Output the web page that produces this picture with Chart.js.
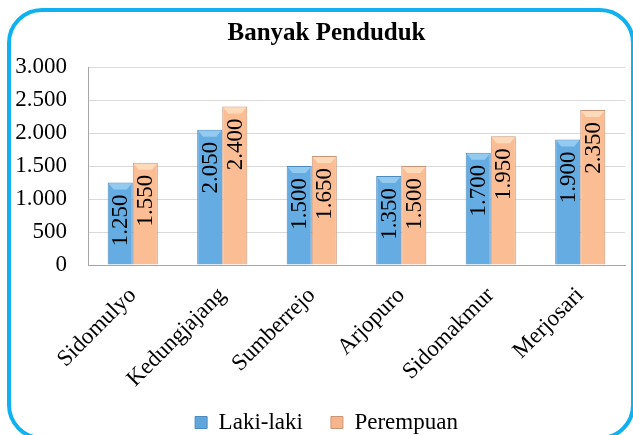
<!DOCTYPE html>
<html>
<head>
<meta charset="utf-8">
<script src="https://cdn.jsdelivr.net/npm/chart.js@4.4.1/dist/chart.umd.min.js"></script>
<style>
    html, body { margin: 0; padding: 0; background: #fff; overflow: hidden; }
    #wrap { position: relative; width: 633px; height: 435px; overflow: hidden; }
    #frame {
        position: absolute; left: 7px; top: 8px;
        width: 620px; height: 424px;
        border: 4px solid #0FB1EE; border-radius: 35px;
        pointer-events: none;
    }
    #chart { position: absolute; left: 0; top: 0; }
</style>
</head>
<body>
<div id="wrap">
    <div id="frame"></div>
    <canvas id="chart" width="633" height="435"></canvas>
</div>
<script>
const desa = ['Sidomulyo', 'Kedungjajang', 'Sumberrejo', 'Arjopuro', 'Sidomakmur', 'Merjosari'];
const lakiLaki = [1250, 2050, 1500, 1350, 1700, 1900];
const perempuan = [1550, 2400, 1650, 1500, 1950, 2350];
const yTicks = [0, 500, 1000, 1500, 2000, 2500, 3000];

const serif = '"Liberation Serif", "Times New Roman", serif';
const LEGEND_PAD = 28;
const LEGEND_TEXT_Y = 422;
const HEADER_SHIFT = 14;

// 1250 -> "1.250"
const formatAngka = (v) => String(v).replace(/\B(?=(\d{3})+(?!\d))/g, '.');

// horizontal shading so each bar looks slightly rounded
function shade(edge, mid) {
    return (context) => {
        const bar = context.element;
        const ctx = context.chart.ctx;
        if (!bar || !context.chart.chartArea || bar.width === undefined) return mid;
        const x0 = bar.x - bar.width / 2;
        const g = ctx.createLinearGradient(x0, 0, x0 + bar.width, 0);
        g.addColorStop(0, edge);
        g.addColorStop(0.35, mid);
        g.addColorStop(0.7, mid);
        g.addColorStop(1, edge);
        return g;
    };
}

// light bevel on top of each bar + value text rotated inside the bar
const barDecor = {
    id: 'barDecor',
    afterDatasetsDraw(chart) {
        const ctx = chart.ctx;
        const caps = ['#A3D4F3', '#FEE4C6'];
        chart.data.datasets.forEach((ds, di) => {
            const meta = chart.getDatasetMeta(di);
            meta.data.forEach((bar, i) => {
                const left = bar.x - bar.width / 2;
                const right = bar.x + bar.width / 2;
                const top = bar.y;
                ctx.save();
                ctx.fillStyle = caps[di];
                ctx.globalAlpha = 0.75;
                ctx.beginPath();
                ctx.moveTo(left + 1, top + 1);
                ctx.lineTo(right - 1, top + 1);
                ctx.lineTo(right - 6, top + 7);
                ctx.lineTo(left + 6, top + 7);
                ctx.closePath();
                ctx.fill();
                ctx.restore();

                ctx.save();
                ctx.translate(bar.x + 1, top + 12);
                ctx.rotate(-Math.PI / 2);
                ctx.fillStyle = '#000';
                ctx.font = '23px ' + serif;
                ctx.textAlign = 'right';
                ctx.textBaseline = 'middle';
                ctx.fillText(formatAngka(ds.data[i]), 0, 0);
                ctx.restore();
            });
        });
    }
};

// legend keeps wide spacing between items but sits close to the bottom edge;
// title and legend are centred a little right of the canvas middle
const headerFooter = {
    id: 'headerFooter',
    afterLayout(chart) {
        const lg = chart.legend;
        const h = lg.bottom - lg.top;
        lg.top = LEGEND_TEXT_Y - LEGEND_PAD - 11;
        lg.bottom = lg.top + h;
        lg.left += HEADER_SHIFT;
        lg.right += HEADER_SHIFT;
        const tb = chart.titleBlock;
        tb.left += HEADER_SHIFT;
        tb.right += HEADER_SHIFT;
    }
};

new Chart(document.getElementById('chart'), {
    type: 'bar',
    data: {
        labels: desa,
        datasets: [
            {
                label: 'Laki-laki',
                data: lakiLaki,
                backgroundColor: shade('#4F95CF', '#65ACE2'),
                borderColor: '#4C8BBE',
                borderWidth: 1,
                categoryPercentage: 0.56,
                barPercentage: 1.0
            },
            {
                label: 'Perempuan',
                data: perempuan,
                backgroundColor: shade('#EEA67C', '#FBBD94'),
                borderColor: '#C99576',
                borderWidth: 1,
                categoryPercentage: 0.56,
                barPercentage: 1.0
            }
        ]
    },
    options: {
        responsive: false,
        animation: false,
        layout: { padding: { left: 0, right: 8, top: 0, bottom: -16 } },
        plugins: {
            title: {
                display: true,
                text: 'Banyak Penduduk',
                color: '#000',
                font: { family: serif, size: 25, weight: 'bold', lineHeight: 1.2 },
                padding: { top: 19, bottom: 18 }
            },
            legend: {
                position: 'bottom',
                labels: {
                    color: '#000',
                    font: { family: serif, size: 23 },
                    boxWidth: 12,
                    boxHeight: 12,
                    padding: LEGEND_PAD,
                    generateLabels(chart) {
                        const fills = ['#5FA6DC', '#F8B58C'];
                        const strokes = ['#4C8BBE', '#C99576'];
                        return chart.data.datasets.map((ds, i) => ({
                            text: ds.label,
                            fillStyle: fills[i],
                            strokeStyle: strokes[i],
                            lineWidth: 1,
                            datasetIndex: i,
                            fontColor: '#000'
                        }));
                    }
                }
            },
            tooltip: { enabled: false }
        },
        scales: {
            x: {
                afterFit(scale) {
                    scale.height = 125;
                },
                grid: { display: false, drawTicks: false },
                border: { color: '#A6A6A6', width: 1 },
                ticks: {
                    color: '#000',
                    font: { family: serif, size: 23 },
                    maxRotation: 45,
                    minRotation: 45,
                    padding: 17
                }
            },
            y: {
                min: 0,
                max: 3000,
                afterBuildTicks(scale) {
                    scale.ticks = yTicks.map(v => ({ value: v }));
                },
                afterFit(scale) {
                    scale.width = 88;
                },
                grid: { color: '#D9D9D9', drawTicks: false },
                border: { color: '#A6A6A6', width: 1 },
                ticks: {
                    color: '#000',
                    font: { family: serif, size: 23 },
                    padding: 21,
                    callback: (v) => formatAngka(v)
                }
            }
        }
    },
    plugins: [barDecor, headerFooter]
});
</script>
</body>
</html>
